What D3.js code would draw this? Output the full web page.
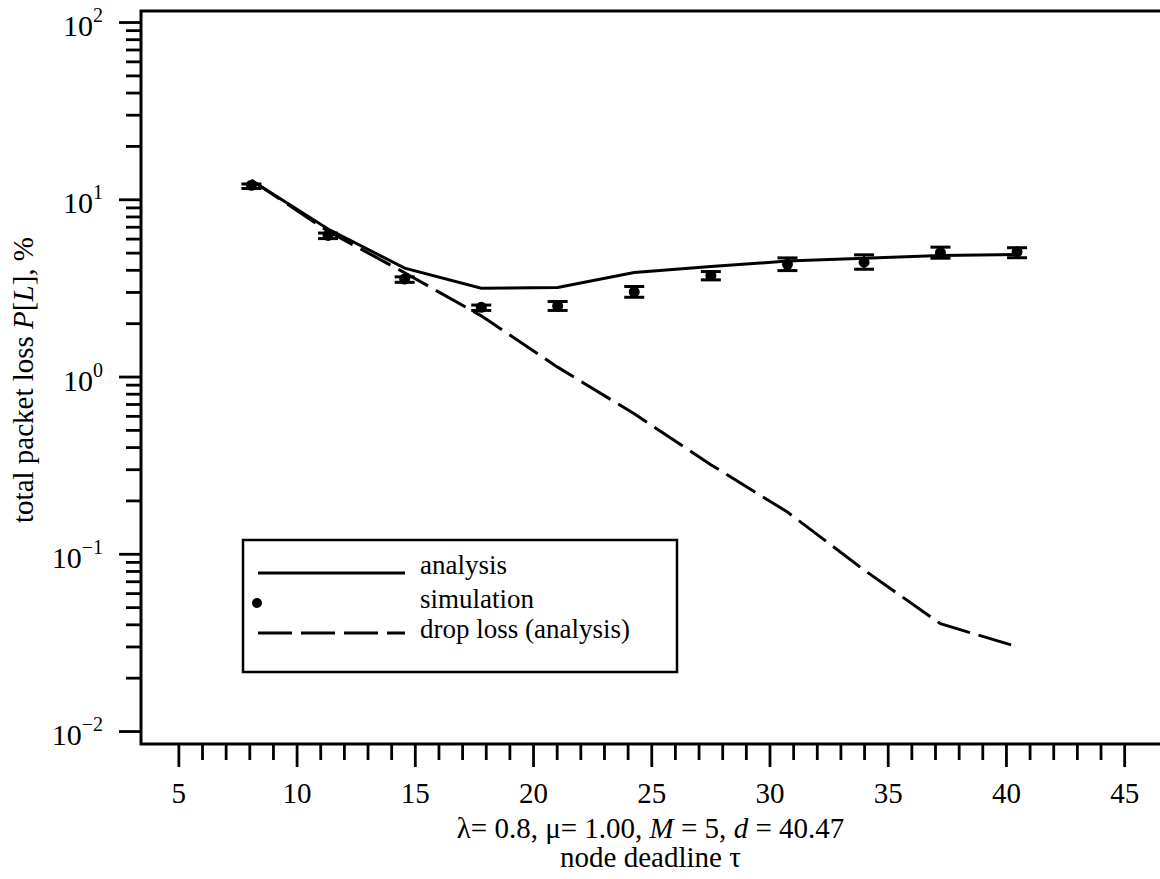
<!DOCTYPE html>
<meta charset="utf-8">
<head>
  <script src="https://d3js.org/d3.v7.min.js"></script>
  <style>
    body { margin: 0; background: #fff; }
    text { font-family: "Liberation Serif", "DejaVu Serif", serif; fill: #000; }
  </style>
</head>
<body>
<div id="my_dataviz"></div>
<script>
// data
var tau = [8.09, 11.33, 14.57, 17.81, 21.04, 24.28, 27.52, 30.76, 34.00, 37.23, 40.47];
var analysis = [12.8, 6.8, 4.09, 3.15, 3.18, 3.86, 4.17, 4.48, 4.65, 4.81, 4.88];
var simulation = [12.0, 6.25, 3.55, 2.46, 2.50, 3.00, 3.71, 4.30, 4.42, 5.00, 5.05];
var simLow = [11.5, 6.0, 3.40, 2.36, 2.36, 2.80, 3.51, 3.96, 4.03, 4.65, 4.68];
var simHigh = [12.2, 6.45, 3.65, 2.53, 2.65, 3.22, 3.91, 4.67, 4.86, 5.37, 5.33];
var dropLoss = [12.8, 6.6, 3.85, 2.2, 1.13, 0.616, 0.318, 0.172, 0.081, 0.0403, 0.0299];

var xMajor = [5, 10, 15, 20, 25, 30, 35, 40, 45];
var yMajor = [0.01, 0.1, 1, 10, 100];
var yExp = ["\u22122", "\u22121", "0", "1", "2"];
var legendLabels = ["analysis", "simulation", "drop loss (analysis)"];

// layout
var W = 1160, H = 879;
var mLeft = 141, mTop = 11, mRight = 1162, mBottom = 744;
var fs = 29;

var svg = d3.select("#my_dataviz").append("svg")
  .attr("width", W).attr("height", H);

var x = d3.scaleLinear().domain([3.42, 46.6]).range([mLeft, mRight]);
var y = d3.scaleLog().domain([0.00845, 115.4]).range([mBottom, mTop]);

// minor ticks
var xMinor = d3.range(5, 46).filter(function(d) { return d % 5 != 0; });
var yMinor = [];
[0.01, 0.1, 1, 10].forEach(function(b) {
  for (var k = 2; k <= 9; k++) yMinor.push(b * k);
});

function styleAxis(g) {
  g.select(".domain").remove();
  g.selectAll(".tick line").attr("stroke", "#000").attr("stroke-width", 2.8);
}

// x axis
svg.append("g")
  .attr("transform", "translate(0," + mBottom + ")")
  .call(d3.axisBottom(x).tickValues(xMinor).tickSize(16).tickFormat(""))
  .call(styleAxis);
svg.append("g")
  .attr("transform", "translate(0," + mBottom + ")")
  .call(d3.axisBottom(x).tickValues(xMajor).tickSize(23).tickPadding(15).tickFormat(d3.format("d")))
  .call(styleAxis)
  .call(function(g) {
    g.selectAll("text").attr("font-size", fs).attr("font-family", "Liberation Serif");
  });

// y axis
svg.append("g")
  .attr("transform", "translate(" + mLeft + ",0)")
  .call(d3.axisLeft(y).tickValues(yMinor).tickSize(15).tickFormat(""))
  .call(styleAxis);
svg.append("g")
  .attr("transform", "translate(" + mLeft + ",0)")
  .call(d3.axisLeft(y).tickValues(yMajor).tickSize(22).tickFormat(""))
  .call(styleAxis);

var ylab = svg.append("g").selectAll("text")
  .data(yMajor)
  .join("text")
  .attr("x", 103)
  .attr("y", function(d) { return y(d) + 14; })
  .attr("text-anchor", "end")
  .attr("font-size", 30);
ylab.append("tspan").text("10");
ylab.append("tspan")
  .attr("font-size", 20)
  .attr("dy", -14)
  .text(function(d, i) { return yExp[i]; });

// frame
svg.append("path")
  .attr("d", "M" + mRight + "," + mTop + "H" + mLeft + "V" + mBottom + "H" + mRight)
  .attr("fill", "none")
  .attr("stroke", "#000")
  .attr("stroke-width", 3);

// lines
var line = d3.line()
  .x(function(d) { return x(d[0]); })
  .y(function(d) { return y(d[1]); });

svg.append("path")
  .datum(d3.zip(tau, analysis))
  .attr("d", line)
  .attr("fill", "none")
  .attr("stroke", "#000")
  .attr("stroke-width", 3);

svg.append("path")
  .datum(d3.zip(tau, dropLoss))
  .attr("d", line)
  .attr("fill", "none")
  .attr("stroke", "#000")
  .attr("stroke-width", 3)
  .attr("stroke-dasharray", "34,9");

// simulation points with error bars
var sim = svg.append("g").selectAll("g")
  .data(tau)
  .join("g");
sim.append("line")
  .attr("x1", function(d) { return x(d); })
  .attr("x2", function(d) { return x(d); })
  .attr("y1", function(d, i) { return y(simLow[i]); })
  .attr("y2", function(d, i) { return y(simHigh[i]); })
  .attr("stroke", "#000").attr("stroke-width", 2);
[simLow, simHigh].forEach(function(arr) {
  sim.append("line")
    .attr("x1", function(d) { return x(d) - 10; })
    .attr("x2", function(d) { return x(d) + 10; })
    .attr("y1", function(d, i) { return y(arr[i]); })
    .attr("y2", function(d, i) { return y(arr[i]); })
    .attr("stroke", "#000").attr("stroke-width", 3);
});
sim.append("circle")
  .attr("cx", function(d) { return x(d); })
  .attr("cy", function(d, i) { return y(simulation[i]); })
  .attr("r", 5.5)
  .attr("fill", "#000");

// legend
var lg = svg.append("g");
lg.append("rect")
  .attr("x", 243).attr("y", 540)
  .attr("width", 434).attr("height", 132)
  .attr("fill", "#fff").attr("stroke", "#000").attr("stroke-width", 2.5);
var rowY = [573, 603, 633];
var textY = [574, 608, 638];
lg.append("line")
  .attr("x1", 258).attr("x2", 405).attr("y1", rowY[0]).attr("y2", rowY[0])
  .attr("stroke", "#000").attr("stroke-width", 3);
lg.append("circle")
  .attr("cx", 257).attr("cy", rowY[1]).attr("r", 5).attr("fill", "#000");
lg.append("line")
  .attr("x1", 258).attr("x2", 405).attr("y1", rowY[2]).attr("y2", rowY[2])
  .attr("stroke", "#000").attr("stroke-width", 3)
  .attr("stroke-dasharray", "34,9");
lg.selectAll("text")
  .data(legendLabels)
  .join("text")
  .attr("x", 420)
  .attr("y", function(d, i) { return textY[i]; })
  .attr("font-size", 27)
  .text(function(d) { return d; });

// axis titles
var cx = (mLeft + 1160) / 2;
var t1 = svg.append("text")
  .attr("x", cx).attr("y", 838)
  .attr("text-anchor", "middle")
  .attr("font-size", fs);
t1.append("tspan").text("\u03bb= 0.8, \u03bc= 1.00, ");
t1.append("tspan").attr("font-style", "italic").text("M");
t1.append("tspan").text(" = 5, ");
t1.append("tspan").attr("font-style", "italic").text("d");
t1.append("tspan").text(" = 40.47");

svg.append("text")
  .attr("x", cx).attr("y", 867)
  .attr("text-anchor", "middle")
  .attr("font-size", fs)
  .text("node deadline \u03c4");

var t3 = svg.append("text")
  .attr("transform", "translate(33,380) rotate(-90)")
  .attr("text-anchor", "middle")
  .attr("font-size", fs);
t3.append("tspan").text("total packet loss ");
t3.append("tspan").attr("font-style", "italic").text("P");
t3.append("tspan").text("[");
t3.append("tspan").attr("font-style", "italic").text("L");
t3.append("tspan").text("], %");
</script>
</body>
